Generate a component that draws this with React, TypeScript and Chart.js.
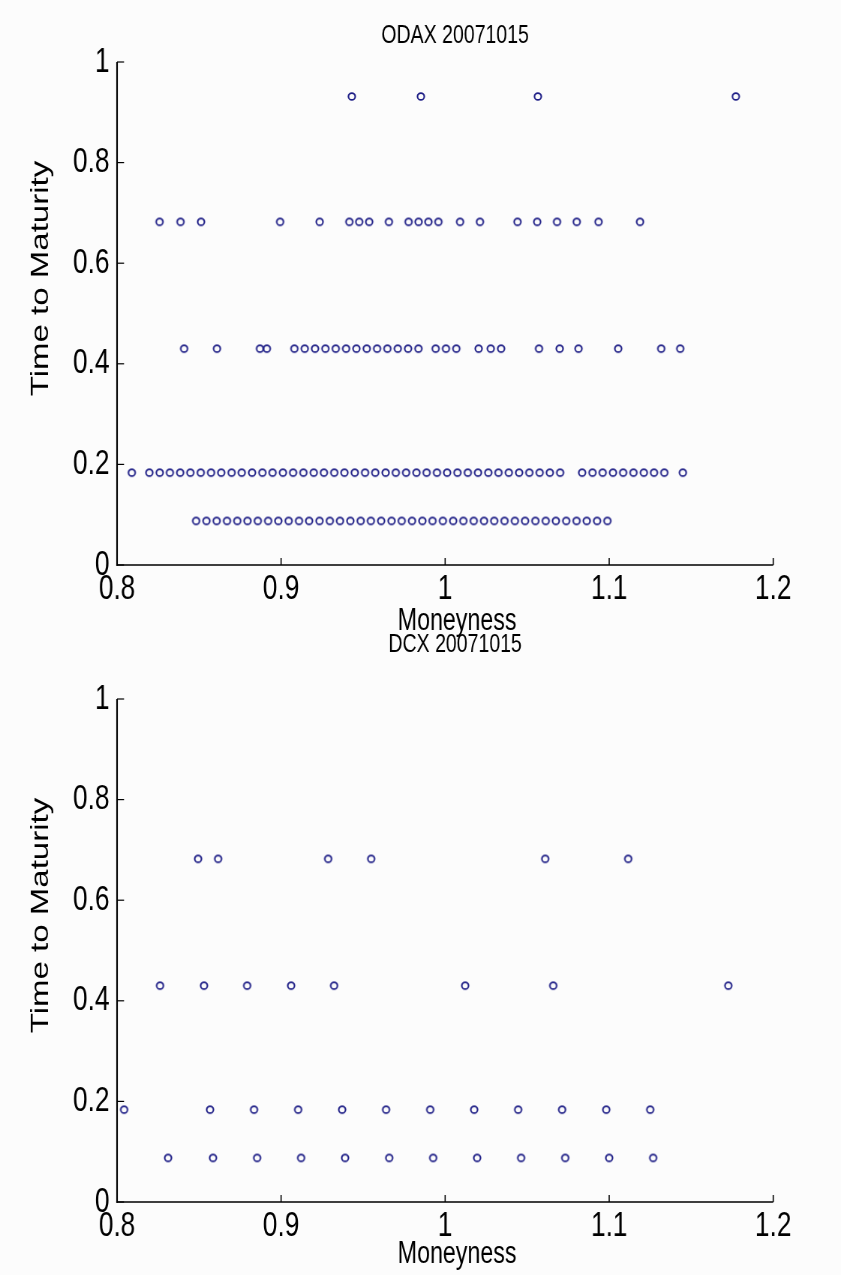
import React, { useEffect, useRef } from "react";
import { Chart, registerables } from "chart.js";

Chart.register(...registerables);

// horizontal squish of the whole figure (the reference is horizontally condensed)
const SX = 0.75;
const PAGE_W = 841;
const PAGE_H = 1275;
const FONT = "'Liberation Sans', Arial, Helvetica, sans-serif";
const MARKER_COLOR = "#1e1e86";

const xTickValues = [0.8, 0.9, 1.0, 1.1, 1.2];
const xTickLabels = ["0.8", "0.9", "1", "1.1", "1.2"];
const yTickValues = [0, 0.2, 0.4, 0.6, 0.8, 1];
const yTickLabels = ["0", "0.2", "0.4", "0.6", "0.8", "1"];

const titles = ["ODAX 20071015", "DCX 20071015"];
const xAxisTitle = "Moneyness";
const yAxisTitle = "Time to Maturity";

// time to maturity of each expiry row
const maturities = [0.0877, 0.1836, 0.4301, 0.6822, 0.9315];

// ODAX moneyness per expiry
const odaxM1 = [
  0.8482, 0.8545, 0.8607, 0.867, 0.8733, 0.8795, 0.8858, 0.8921, 0.8983, 0.9046,
  0.9109, 0.9171, 0.9234, 0.9297, 0.9359, 0.9422, 0.9485, 0.9547, 0.961, 0.9673,
  0.9735, 0.9798, 0.9861, 0.9923, 0.9986, 1.0049, 1.0111, 1.0174, 1.0237, 1.0299,
  1.0362, 1.0425, 1.0487, 1.055, 1.0613, 1.0675, 1.0738, 1.0801, 1.0863, 1.0926,
  1.0989,
];
const odaxM2 = [
  0.809,
  0.8197, 0.826, 0.8322, 0.8385, 0.8447, 0.851, 0.8573, 0.8635, 0.8698, 0.876,
  0.8823, 0.8886, 0.8948, 0.9011, 0.9073, 0.9136, 0.9199, 0.9261, 0.9324, 0.9386,
  0.9449, 0.9512, 0.9574, 0.9637, 0.9699, 0.9762, 0.9825, 0.9887, 0.995, 1.0012,
  1.0075, 1.0138, 1.02, 1.0263, 1.0325, 1.0388, 1.0451, 1.0513, 1.0576, 1.0638,
  1.0701,
  1.0835, 1.0898, 1.096, 1.1023, 1.1085, 1.1148, 1.1211, 1.1273, 1.1336,
  1.1449,
];
const odaxM3 = [
  0.8409, 0.8609, 0.8871, 0.8913,
  0.9081, 0.9144, 0.9207, 0.927, 0.9333, 0.9396, 0.9459, 0.9522, 0.9585, 0.9648,
  0.9711, 0.9774, 0.9837,
  0.9942, 1.0005, 1.0068, 1.0204, 1.0278, 1.0341, 1.0572, 1.0698, 1.0813, 1.1055,
  1.1317, 1.1433,
];
const odaxM4 = [
  0.8259, 0.8387, 0.8512, 0.8994, 0.9235, 0.9416, 0.9476, 0.9537, 0.9657, 0.9777,
  0.9838, 0.9898, 0.9959, 1.0091, 1.0212, 1.0441, 1.0561, 1.0682, 1.0802, 1.0935,
  1.1188,
];
const odaxM5 = [0.9431, 0.9852, 1.0565, 1.1772];

// DCX moneyness per expiry
const dcxM1 = [
  0.8311, 0.8585, 0.8854, 0.9122, 0.939, 0.9659, 0.9927, 1.0195, 1.0463, 1.0732,
  1.1, 1.1268,
];
const dcxM2 = [
  0.8043, 0.8567, 0.8835, 0.9104, 0.9372, 0.964, 0.9909, 1.0177, 1.0445, 1.0713,
  1.0982, 1.125,
];
const dcxM3 = [0.8262, 0.853, 0.8793, 0.9061, 0.9323, 1.0122, 1.0659, 1.1726];
const dcxM4 = [0.8494, 0.8616, 0.9287, 0.9549, 1.061, 1.1116];

type Row = { t: number; m: number[] };

const odaxRows: Row[] = [odaxM1, odaxM2, odaxM3, odaxM4, odaxM5].map((m, i) => ({
  t: maturities[i],
  m,
}));
const dcxRows: Row[] = [dcxM1, dcxM2, dcxM3, dcxM4].map((m, i) => ({
  t: maturities[i],
  m,
}));

function makeMarker(): HTMLCanvasElement {
  const r = 3.4;
  const lw = 1.6;
  const w = Math.ceil((2 * r + lw + 2) / SX);
  const h = Math.ceil(2 * r + lw + 2);
  const c = document.createElement("canvas");
  c.width = w;
  c.height = h;
  const ctx = c.getContext("2d")!;
  ctx.setTransform(1 / SX, 0, 0, 1, w / 2, h / 2);
  ctx.beginPath();
  ctx.arc(0, 0, r, 0, Math.PI * 2);
  ctx.strokeStyle = MARKER_COLOR;
  ctx.lineWidth = lw;
  ctx.stroke();
  return c;
}

type TextOpts = {
  title: string;
  titleY: number; // canvas-local
  titleDX: number; // css px offset from plot centre
  xTitleY: number; // canvas-local
  xTitleDX: number;
  yTitleX: number; // css px
  yTitleDY: number; // offset from plot centre
};

function makeAxesPlugin(t: TextOpts) {
  return {
    id: "matlabAxes",
    afterDraw(chart: any) {
      const { ctx, chartArea, scales } = chart;
      const { left, right, top, bottom } = chartArea;
      const tickLen = 7;
      ctx.save();
      ctx.strokeStyle = "#000";
      ctx.lineCap = "butt";
      // x axis line
      ctx.lineWidth = 1.6;
      ctx.beginPath();
      ctx.moveTo(left - 0.8 / SX, bottom);
      ctx.lineTo(right, bottom);
      ctx.stroke();
      // y axis line
      ctx.lineWidth = 1.6 / SX;
      ctx.beginPath();
      ctx.moveTo(left, top);
      ctx.lineTo(left, bottom + 0.8);
      ctx.stroke();
      // x ticks (inward)
      ctx.lineWidth = 1.2 / SX;
      xTickValues.forEach((v) => {
        const px = scales.x.getPixelForValue(v);
        ctx.beginPath();
        ctx.moveTo(px, bottom);
        ctx.lineTo(px, bottom - tickLen);
        ctx.stroke();
      });
      // y ticks (inward)
      ctx.lineWidth = 1.2;
      yTickValues.forEach((v) => {
        const py = scales.y.getPixelForValue(v);
        ctx.beginPath();
        ctx.moveTo(left, py);
        ctx.lineTo(left + tickLen / SX, py);
        ctx.stroke();
      });

      // texts
      const cx = (left + right) / 2;
      const cy = (top + bottom) / 2;
      ctx.fillStyle = "#000";
      ctx.textAlign = "center";
      ctx.textBaseline = "middle";
      ctx.font = `26px ${FONT}`;
      ctx.fillText(t.title, cx + t.titleDX / SX, t.titleY);
      ctx.font = `31px ${FONT}`;
      ctx.fillText(xAxisTitle, cx + t.xTitleDX / SX, t.xTitleY);
      ctx.save();
      ctx.translate(t.yTitleX / SX, cy + t.yTitleDY);
      ctx.rotate(-Math.PI / 2);
      ctx.font = `33px ${FONT}`;
      ctx.fillText(yAxisTitle, 0, 0);
      ctx.restore();
      ctx.restore();
    },
  };
}

type PanelProps = {
  title: string;
  rows: Row[];
  canvasTop: number;
  canvasHeight: number;
  areaTop: number;
  areaBottom: number;
  areaLeft: number;
  areaRight: number;
  titleY: number;
  xTitleY: number;
  yTitleX: number;
};

function Panel(p: PanelProps) {
  const ref = useRef<HTMLCanvasElement>(null);
  const W = Math.round(PAGE_W / SX);

  useEffect(() => {
    const canvas = ref.current!;
    const marker = makeMarker();
    const localTop = p.areaTop - p.canvasTop;
    const localBottom = p.areaBottom - p.canvasTop;
    const tickFont = 35;
    const xAxisH = p.canvasHeight - localBottom;
    const yAxisW = p.areaLeft / SX;
    const rightPad = W - p.areaRight / SX;

    const chart = new Chart(canvas, {
      type: "scatter",
      data: {
        datasets: p.rows.map((r) => ({
          data: r.m.map((m) => ({ x: m, y: r.t })),
          pointStyle: marker as any,
          pointRadius: 4,
          pointHoverRadius: 4,
          showLine: false,
          clip: false as any,
        })),
      },
      options: {
        responsive: false,
        animation: false,
        devicePixelRatio: 1,
        events: [],
        layout: { padding: { left: 0, top: localTop, right: rightPad, bottom: 0 } },
        plugins: {
          legend: { display: false },
          tooltip: { enabled: false },
          title: { display: false },
        },
        scales: {
          x: {
            type: "linear",
            min: 0.8,
            max: 1.2,
            afterBuildTicks: (scale: any) => {
              scale.ticks = xTickValues.map((v) => ({ value: v }));
            },
            afterFit: (scale: any) => {
              scale.height = xAxisH;
            },
            ticks: {
              color: "#000",
              font: { family: FONT, size: tickFont, lineHeight: 1.2 },
              padding: 3,
              maxRotation: 0,
              autoSkip: false,
              callback: (_v: any, i: number) => xTickLabels[i],
            },
            grid: { display: false, drawTicks: false },
            border: { display: false },
            title: { display: false },
          },
          y: {
            type: "linear",
            min: 0,
            max: 1,
            afterBuildTicks: (scale: any) => {
              scale.ticks = yTickValues.map((v) => ({ value: v }));
            },
            afterFit: (scale: any) => {
              scale.width = yAxisW;
            },
            ticks: {
              color: "#000",
              font: { family: FONT, size: tickFont, lineHeight: 1.2 },
              padding: 10,
              autoSkip: false,
              callback: (_v: any, i: number) => yTickLabels[i],
            },
            grid: { display: false, drawTicks: false },
            border: { display: false },
            title: { display: false },
          },
        },
      },
      plugins: [
        makeAxesPlugin({
          title: p.title,
          titleY: p.titleY - p.canvasTop,
          titleDX: 10,
          xTitleY: p.xTitleY - p.canvasTop,
          xTitleDX: 12,
          yTitleX: p.yTitleX,
          yTitleDY: -35,
        }),
      ],
    });
    return () => chart.destroy();
  }, []);

  return (
    <canvas
      ref={ref}
      width={W}
      height={p.canvasHeight}
      style={{
        position: "absolute",
        left: 0,
        top: p.canvasTop,
        width: PAGE_W,
        height: p.canvasHeight,
      }}
    />
  );
}

export default function App() {
  return (
    <div
      style={{
        position: "absolute",
        left: 0,
        top: 0,
        width: PAGE_W,
        height: PAGE_H,
        background: "#fcfcfc",
        overflow: "hidden",
      }}
    >
      <Panel
        title={titles[0]}
        rows={odaxRows}
        canvasTop={0}
        canvasHeight={660}
        areaTop={62}
        areaBottom={565}
        areaLeft={117}
        areaRight={773}
        titleY={36}
        xTitleY={621}
        yTitleX={41}
      />
      <Panel
        title={titles[1]}
        rows={dcxRows}
        canvasTop={615}
        canvasHeight={660}
        areaTop={699}
        areaBottom={1202}
        areaLeft={117}
        areaRight={773}
        titleY={645}
        xTitleY={1254}
        yTitleX={41}
      />
    </div>
  );
}
